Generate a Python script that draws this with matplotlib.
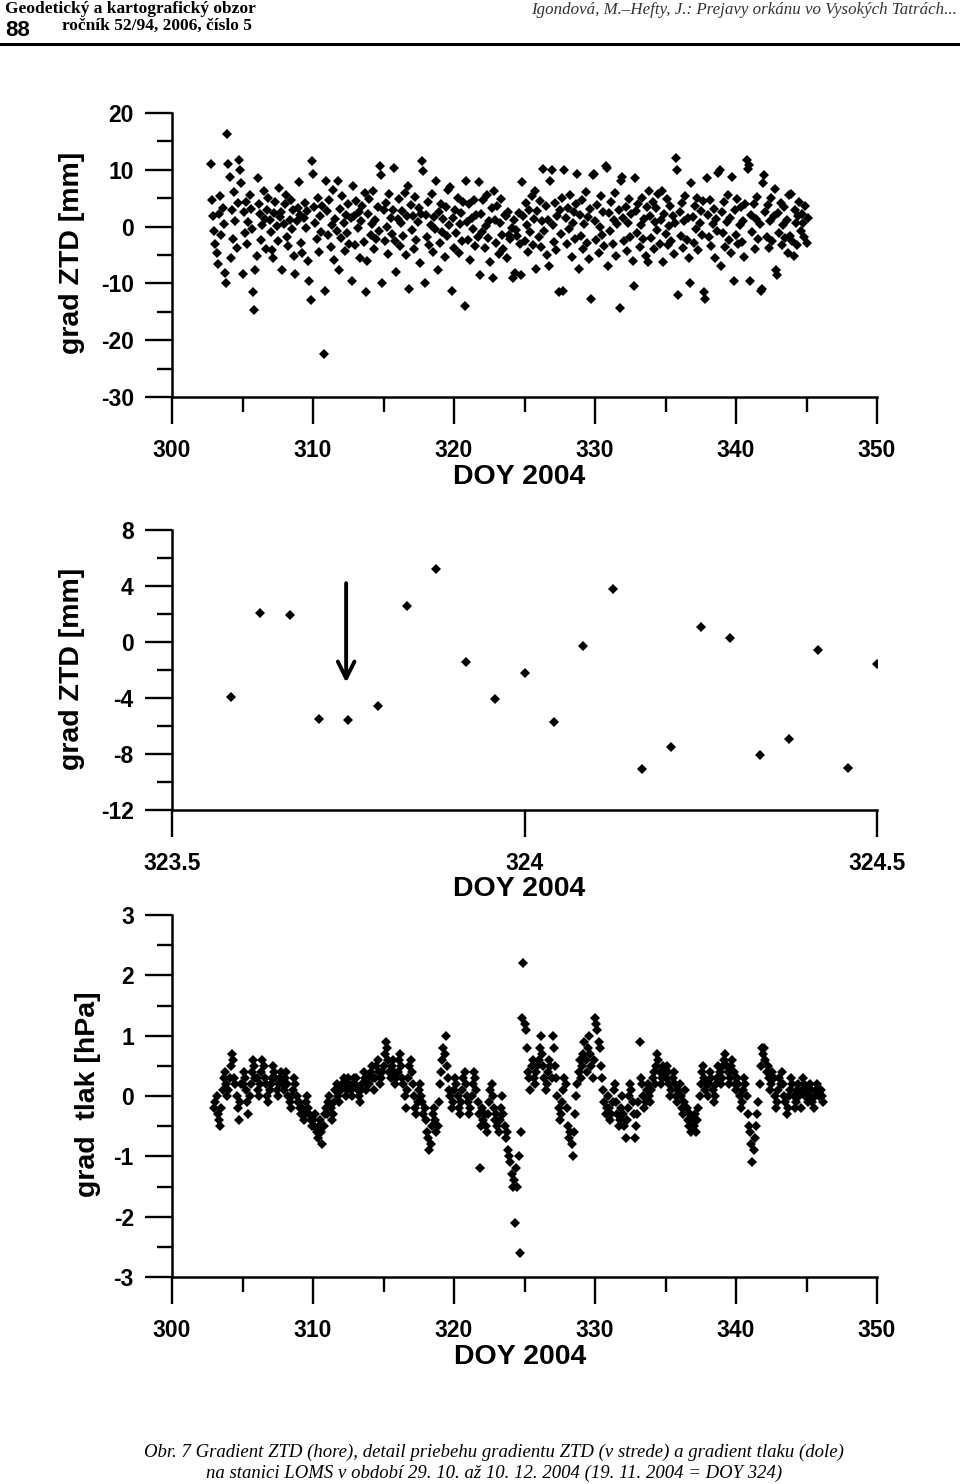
import numpy as np
import matplotlib
matplotlib.use("Agg")
import matplotlib.pyplot as plt
from matplotlib.ticker import MultipleLocator, FixedLocator
from matplotlib.lines import Line2D

plt.rcParams['axes.unicode_minus'] = False
SANS = ['Liberation Sans', 'DejaVu Sans']
SERIF = ['Liberation Serif', 'DejaVu Serif']

# ---------------- DATA ----------------
# Top panel: gradient ZTD [mm], samples every 2 h starting at DOY 302.75
ztd_start = 302.75
ztd_per_day = 12
ztd_rows = [
    [11.1, 4.6, 1.9, -0.7, -3.0, -4.6, -6.5, 2.3, 5.4, -1.5, 3.2, 0.4],
    [-8.1, -10.0, 16.3, 11.1, 8.8, -5.6, 3.0, -2.2, 6.1, 1.0, -3.8, 4.2],
    [11.8, 9.9, 7.6, -8.3, 2.5, -1.2, 4.4, -3.1, 0.8, 5.6, 3.1, -0.5],
    [-11.6, -14.6, -7.7, -5.1, 8.5, 4.0, 2.2, -2.4, 0.3, 6.2, 1.4, -4.0],
    [3.0, 5.1, 1.2, -1.0, -4.2, -5.6, 2.4, 4.3, 0.1, -2.5, 6.8, 1.7],
    [2.6, -7.7, 0.5, 3.9, 5.5, -1.8, -3.4, 1.1, 4.7, -0.4, 2.9, -5.2],
    [-8.3, 0.9, 3.3, 7.9, 2.0, -2.9, -4.7, 1.6, 4.1, -0.2, 2.8, -6.1],
    [-9.5, -13.0, 11.6, 9.3, 3.4, 0.6, -2.1, 5.0, -4.4, 1.9, -0.9, 3.7],
    [-22.4, -11.3, 8.0, 2.7, -1.5, 4.6, -3.6, 0.2, 6.4, -5.8, 1.3, -0.7],
    [8.1, -7.7, 3.1, -2.0, 5.3, 0.7, -4.3, 2.1, -1.1, 4.0, -3.0, 1.5],
    [-9.5, 7.2, 1.8, -3.3, 4.5, -0.3, 2.6, -5.5, 0.9, 3.6, -2.7, 5.9],
    [-11.6, -6.0, 2.3, 4.9, -1.4, 0.5, 6.3, -3.9, 1.2, -2.2, 3.4, -0.8],
    [10.7, 9.0, -9.9, 2.9, -2.6, 4.2, 0.0, -4.8, 5.7, 1.6, -1.3, 3.0],
    [10.4, -2.5, -8.0, 1.4, 4.8, -3.5, 0.6, 2.7, -1.7, 6.0, -5.0, 1.9],
    [7.2, -11.0, 3.8, -0.6, 1.9, -4.0, 5.2, -2.3, 0.8, 3.3, -6.4, 2.2],
    [11.6, 9.8, -9.9, 2.1, -1.8, 4.4, -3.2, 0.3, 5.8, -4.5, 1.7, -0.4],
    [8.1, -7.6, 2.5, -2.9, 4.0, -0.9, 1.3, -5.3, 3.5, -1.6, 6.5, 0.2],
    [7.0, -11.3, 1.6, -3.7, 3.0, -1.2, 5.1, -4.6, 0.4, 2.4, -2.6, 4.3],
    [-13.9, 8.1, 0.8, -2.4, 3.9, -5.9, 1.5, -0.5, 4.7, -3.4, 2.0, -1.9],
    [7.9, -8.6, 2.2, -1.0, 4.6, -3.8, 0.1, 5.5, -2.0, 1.0, -6.2, 3.2],
    [-9.0, 6.3, 1.1, -2.8, 3.6, -4.9, 0.7, 4.9, -1.5, -3.9, 2.1, 1.9],
    [-5.6, 2.6, -1.4, -2.2, -0.3, -9.1, 1.1, -8.1, -0.6, -1.6, 2.4, -3.0],
    [-8.6, 7.8, 1.9, -2.5, 4.2, 0.2, -4.4, 3.0, -1.0, 5.4, -3.3, 1.4],
    [6.3, -7.4, 2.8, -1.8, 4.5, -3.6, 0.9, 10.2, -0.7, 3.7, -5.0, 1.2],
    [-6.9, 8.1, 10.0, 0.3, -2.7, 4.1, -4.1, 1.8, -11.6, 2.9, -1.3, 5.0],
    [-11.3, 9.9, 1.5, -3.0, 3.3, -0.4, 5.6, -5.4, 0.6, 2.5, -2.1, 4.0],
    [9.3, -7.4, 2.0, -1.6, 4.7, -3.9, 0.4, 6.1, -2.8, 1.7, -5.7, 3.1],
    [-12.7, 9.0, 9.3, 1.0, -2.3, 3.8, -4.6, 0.0, 5.3, -1.4, 2.6, -3.5],
    [10.7, 10.4, -6.9, 2.4, -0.8, 4.3, -3.1, 1.2, 5.9, -5.1, 0.5, 3.0],
    [-14.3, 8.1, 8.8, 1.6, -2.6, 3.5, -4.3, 0.7, 4.8, -1.9, 2.2, -6.0],
    [-10.4, 8.5, 2.7, -1.1, 4.0, -3.6, 0.3, 5.1, -2.2, 1.4, -5.2, 3.4],
    [-6.3, 6.3, 1.9, -2.0, 4.4, -4.0, 0.8, 3.2, -0.6, 5.7, -3.0, 1.1],
    [6.3, -6.3, 2.3, -1.3, 4.9, -3.3, 0.1, 3.6, -2.6, 1.8, -4.8, 0.6],
    [12.1, 9.9, -12.1, 2.6, -1.7, 4.1, -3.8, 0.9, 5.3, -2.4, 1.5, -5.5],
    [-9.9, 7.7, 1.7, -2.9, 3.7, -0.5, 5.0, -4.2, 0.6, 2.8, -1.4, 4.5],
    [-11.6, -12.7, 8.5, 2.0, -1.9, 4.6, -3.4, 0.4, 3.1, -5.6, 1.3, -0.7],
    [9.5, 9.9, -6.9, 2.5, -1.2, 4.3, -3.6, 0.8, 5.6, -2.3, 1.6, -4.7],
    [8.8, -9.5, 2.9, -1.5, 4.8, -3.0, 0.2, 3.5, -2.7, 1.0, -5.3, 3.9],
    [11.8, 10.2, 10.8, -9.5, 2.1, -0.9, 4.0, -4.0, 1.4, 5.2, -2.1, 0.5],
    [-11.3, -11.0, 7.7, 9.0, 2.6, -1.8, 3.8, -3.7, 0.9, 5.1, -2.5, 1.8],
    [6.7, -7.7, -8.6, 2.4, -1.1, 4.2, -3.3, 0.3, 3.4, -2.0, 1.2, -4.6],
    [5.5, -1.6, 5.8, -2.5, -5.1, 3.0, 0.7, -3.2, 1.9, 4.4, -0.8, 2.2],
    [0.6, -1.9, 3.6, -2.8, 1.5],
]

# Middle panel: hourly gradient ZTD on DOY 323.5 - 324.5
detail_hours = [2, 3, 4, 5, 6, 7, 8, 9, 10, 11, 12, 13,
                14, 15, 16, 17, 18, 19, 20, 21, 22, 23, 24]
detail_ztd = [-3.9, 2.1, 1.9, -5.5, -5.6, -4.6, 2.6, 5.2, -1.4, -4.1, -2.2, -5.7,
              -0.3, 3.8, -9.1, -7.5, 1.1, 0.3, -8.1, -6.9, -0.6, -9.0, -1.6]
detail_start = 323.5
arrow_doy = 323.747
arrow_from, arrow_to = 4.2, -2.9

# Bottom panel: pressure gradient [hPa], samples every 2 h from DOY 303.0
tlak_start = 303.0
tlak_per_day = 12
tlak_rows = [
    [-0.2, -0.1, 0.0, -0.3, -0.4, -0.5, -0.2, 0.1, 0.3, 0.4, 0.2, 0.0],
    [0.1, 0.3, 0.5, 0.7, 0.6, 0.3, 0.2, 0.0, -0.2, -0.4, -0.1, 0.2],
    [0.2, 0.4, 0.3, 0.1, -0.1, -0.3, 0.0, 0.2, 0.4, 0.6, 0.5, 0.3],
    [0.3, 0.1, 0.0, 0.2, 0.4, 0.6, 0.5, 0.3, 0.2, 0.0, -0.1, 0.1],
    [0.2, 0.3, 0.5, 0.4, 0.3, 0.1, 0.0, 0.2, 0.3, 0.4, 0.2, 0.1],
    [0.3, 0.4, 0.2, 0.0, -0.1, -0.2, 0.0, 0.1, 0.3, 0.2, 0.0, -0.1],
    [-0.1, -0.2, -0.3, -0.2, -0.4, -0.3, -0.1, 0.0, -0.2, -0.3, -0.4, -0.5],
    [-0.4, -0.5, -0.3, -0.6, -0.7, -0.5, -0.4, -0.6, -0.8, -0.5, -0.3, -0.2],
    [-0.3, -0.1, 0.0, -0.2, -0.4, -0.3, -0.1, 0.1, 0.2, 0.0, -0.1, 0.1],
    [0.1, 0.2, 0.3, 0.2, 0.0, 0.1, 0.3, 0.2, 0.1, 0.0, 0.2, 0.3],
    [0.2, 0.3, 0.1, 0.0, -0.1, 0.1, 0.2, 0.4, 0.3, 0.1, 0.2, 0.3],
    [0.2, 0.4, 0.5, 0.3, 0.1, 0.3, 0.5, 0.6, 0.4, 0.2, 0.3, 0.4],
    [0.5, 0.7, 0.9, 0.8, 0.6, 0.4, 0.3, 0.5, 0.6, 0.4, 0.2, 0.3],
    [0.4, 0.6, 0.7, 0.5, 0.3, 0.2, 0.0, -0.2, 0.1, 0.3, 0.5, 0.6],
    [0.4, 0.2, 0.0, -0.2, -0.3, -0.1, 0.1, 0.2, 0.0, -0.1, -0.3, -0.2],
    [-0.4, -0.6, -0.7, -0.9, -0.8, -0.5, -0.3, -0.2, -0.4, -0.6, -0.5, -0.1],
    [0.2, 0.4, 0.6, 0.8, 0.7, 1.0, 0.5, 0.3, 0.1, 0.0, -0.2, -0.1],
    [0.1, 0.3, 0.2, 0.0, -0.2, -0.3, -0.1, 0.1, 0.3, 0.4, 0.2, 0.0],
    [-0.1, -0.3, -0.2, 0.0, 0.2, 0.4, 0.3, 0.1, -0.1, -0.3, -1.2, -0.5],
    [-0.2, -0.4, -0.3, -0.5, -0.6, -0.3, -0.1, 0.1, 0.2, 0.0, -0.2, -0.4],
    [-0.3, -0.5, -0.6, -0.4, -0.2, 0.0, -0.3, -0.5, -0.7, -0.6, -0.9, -1.0],
    [-1.1, -1.3, -1.5, -1.4, -2.1, -1.2, -1.5, -1.0, -2.6, -0.6, 1.3, 2.2],
    [1.2, 1.1, 0.8, 0.4, 0.3, 0.1, 0.5, 0.6, 0.3, 0.2, 0.4, 0.5],
    [0.6, 0.8, 1.0, 0.7, 0.5, 0.3, 0.1, 0.2, 0.4, 0.6, 0.5, 0.3],
    [1.0, 0.8, 0.5, 0.3, 0.0, -0.2, -0.4, -0.3, -0.1, 0.1, 0.3, 0.2],
    [-0.2, -0.5, -0.7, -0.6, -0.8, -1.0, -0.6, -0.3, 0.0, 0.2, 0.4, 0.6],
    [0.3, 0.5, 0.7, 0.9, 0.6, 0.4, 0.8, 1.0, 0.7, 0.5, 0.3, 0.6],
    [1.3, 1.2, 1.1, 0.9, 0.8, 0.5, 0.3, 0.1, -0.1, -0.3, -0.2, 0.0],
    [-0.2, -0.4, -0.3, -0.1, 0.1, 0.2, -0.1, -0.3, -0.5, -0.4, -0.2, 0.0],
    [-0.3, -0.5, -0.7, -0.4, -0.2, 0.0, 0.2, 0.1, -0.1, -0.3, -0.7, -0.5],
    [-0.3, -0.1, 0.9, 0.3, 0.2, 0.0, -0.2, -0.1, 0.1, 0.2, 0.0, -0.1],
    [0.1, 0.3, 0.4, 0.2, 0.5, 0.7, 0.6, 0.4, 0.2, 0.3, 0.5, 0.4],
    [0.3, 0.5, 0.4, 0.2, 0.0, 0.1, 0.3, 0.4, 0.2, 0.0, -0.1, 0.1],
    [0.2, 0.0, -0.2, -0.3, -0.1, 0.1, -0.2, -0.4, -0.5, -0.3, -0.6, -0.4],
    [-0.5, -0.3, -0.6, -0.4, -0.2, 0.0, 0.2, 0.4, 0.5, 0.3, 0.1, 0.2],
    [0.0, 0.2, 0.4, 0.3, 0.1, -0.1, 0.0, 0.2, 0.3, 0.5, 0.4, 0.2],
    [0.3, 0.5, 0.6, 0.7, 0.5, 0.4, 0.2, 0.3, 0.5, 0.6, 0.4, 0.2],
    [0.1, 0.3, 0.2, 0.0, -0.2, -0.1, 0.1, 0.3, 0.2, 0.0, -0.3, -0.5],
    [-0.6, -0.8, -1.1, -0.9, -0.7, -0.5, -0.3, -0.1, 0.2, 0.5, 0.8, 0.7],
    [0.8, 0.6, 0.4, 0.5, 0.3, 0.1, 0.2, 0.4, 0.3, 0.0, -0.2, -0.1],
    [0.1, 0.3, 0.2, 0.4, 0.2, 0.0, -0.1, -0.3, -0.2, 0.0, 0.1, 0.3],
    [0.2, 0.0, -0.2, -0.1, 0.1, 0.2, 0.0, -0.2, 0.1, 0.3, 0.2, 0.0],
    [0.1, -0.1, 0.0, 0.2, 0.1, -0.1, -0.2, 0.0, 0.1, 0.2, 0.1, 0.0],
    [0.1, 0.0, -0.1],
]

top_xticks = [300, 310, 320, 330, 340, 350]
top_yticks = [20, 10, 0, -10, -20, -30]
mid_xticks = [323.5, 324, 324.5]
mid_xticklabels = ["323.5", "324", "324.5"]
mid_yticks = [8, 4, 0, -4, -8, -12]
bot_yticks = [3, 2, 1, 0, -1, -2, -3]

header_left1 = "Geodetický a kartografický obzor"
header_num = "88"
header_left2 = "ročník 52/94, 2006, číslo 5"
header_right = "Igondová, M.–Hefty, J.: Prejavy orkánu vo Vysokých Tatrách..."
caption1 = "Obr. 7 Gradient ZTD (hore), detail priebehu gradientu ZTD (v strede) a gradient tlaku (dole)"
caption2 = "na stanici LOMS v období 29. 10. až 10. 12. 2004 (19. 11. 2004 = DOY 324)"

# ---------------- FIGURE ----------------
W, H = 960, 1484
fig = plt.figure(figsize=(W / 100, H / 100), dpi=100)


def fx(px):
    return px / W


def fy(py):
    return 1 - py / H


def make_ax(top, bottom, left=172, right=877):
    return fig.add_axes([fx(left), fy(bottom), (right - left) / W, (bottom - top) / H])


def style(ax):
    for s in ['top', 'right']:
        ax.spines[s].set_visible(False)
    for s in ['left', 'bottom']:
        ax.spines[s].set_linewidth(1.8)
    ax.tick_params(which='major', direction='out', length=19.5, width=1.7)
    ax.tick_params(which='minor', direction='out', length=10.5, width=1.7)
    ax.tick_params(axis='y', which='major', pad=8, labelsize=16.5)
    ax.tick_params(axis='x', which='major', pad=11, labelsize=16.5)
    for lab in ax.get_xticklabels() + ax.get_yticklabels():
        lab.set_fontfamily(SANS)
        lab.set_fontweight('bold')


def flatten(rows):
    vals = []
    for r in rows:
        vals.extend(r)
    return np.array(vals)


label_kw = dict(fontfamily=SANS, fontweight='bold', fontsize=20.5, ha='center', va='center')

# Top panel
ax1 = make_ax(113, 397)
ztd = flatten(ztd_rows)
x_ztd = ztd_start + np.arange(len(ztd)) / ztd_per_day
ax1.plot(x_ztd, ztd, linestyle='none', marker='D', ms=4.8, mew=0, color='black')
ax1.set_xlim(300, 350)
ax1.set_ylim(-30, 20)
ax1.xaxis.set_major_locator(FixedLocator(top_xticks))
ax1.xaxis.set_minor_locator(MultipleLocator(5))
ax1.yaxis.set_major_locator(FixedLocator(top_yticks))
ax1.yaxis.set_minor_locator(MultipleLocator(5))
ax1.set_xticklabels([str(v) for v in top_xticks])
ax1.set_yticklabels([str(v) for v in top_yticks])
style(ax1)
fig.text(fx(72), fy(253), "grad ZTD [mm]", rotation=90, **label_kw)
fig.text(fx(519), fy(477), "DOY 2004", **label_kw)

# Middle panel
ax2 = make_ax(530, 810)
x_det = detail_start + np.array(detail_hours) / 24.0
ax2.plot(x_det, detail_ztd, linestyle='none', marker='D', ms=4.6, mew=0, color='black')
ax2.set_xlim(323.5, 324.5)
ax2.set_ylim(-12, 8)
ax2.xaxis.set_major_locator(FixedLocator(mid_xticks))
ax2.yaxis.set_major_locator(FixedLocator(mid_yticks))
ax2.yaxis.set_minor_locator(MultipleLocator(2))
ax2.set_xticklabels(mid_xticklabels)
ax2.set_yticklabels([str(v) for v in mid_yticks])
style(ax2)
ax2.annotate('', xy=(arrow_doy, arrow_to), xytext=(arrow_doy, arrow_from),
             arrowprops=dict(arrowstyle='->,head_length=1.2,head_width=0.6',
                             lw=2.8, color='black', shrinkA=0, shrinkB=0))
fig.text(fx(72), fy(669), "grad ZTD [mm]", rotation=90, **label_kw)
fig.text(fx(519), fy(889), "DOY 2004", **label_kw)

# Bottom panel
ax3 = make_ax(915, 1277)
tlak = flatten(tlak_rows)
x_tlak = tlak_start + np.arange(len(tlak)) / tlak_per_day
ax3.plot(x_tlak, tlak, linestyle='none', marker='D', ms=4.7, mew=0, color='black')
ax3.set_xlim(300, 350)
ax3.set_ylim(-3, 3)
ax3.xaxis.set_major_locator(FixedLocator(top_xticks))
ax3.xaxis.set_minor_locator(MultipleLocator(5))
ax3.yaxis.set_major_locator(FixedLocator(bot_yticks))
ax3.yaxis.set_minor_locator(MultipleLocator(0.5))
ax3.set_xticklabels([str(v) for v in top_xticks])
ax3.set_yticklabels([str(v) for v in bot_yticks])
style(ax3)
fig.text(fx(88), fy(1094), "grad  tlak [hPa]", rotation=90, **label_kw)
fig.text(fx(520), fy(1357), "DOY 2004", **label_kw)

# Header
fig.text(fx(5), fy(1), header_left1, fontfamily=SERIF, fontweight='bold',
         fontsize=12.5, ha='left', va='top')
fig.text(fx(5), fy(20), header_num, fontfamily=SANS, fontweight='bold',
         fontsize=16, ha='left', va='top')
fig.text(fx(62), fy(18), header_left2, fontfamily=SERIF, fontweight='bold',
         fontsize=12.5, ha='left', va='top')
fig.text(fx(957), fy(2), header_right, fontfamily=SERIF, style='italic',
         fontsize=12.2, ha='right', va='top', color='#333333')
fig.add_artist(Line2D([0, 1], [fy(44), fy(44)], transform=fig.transFigure,
                      lw=2.2, color='black'))

# Caption
fig.text(fx(494), fy(1452), caption1, fontfamily=SERIF, style='italic',
         fontsize=13.5, ha='center', va='center')
fig.text(fx(494), fy(1473), caption2, fontfamily=SERIF, style='italic',
         fontsize=13.5, ha='center', va='center')

fig.savefig("out.png", dpi=100)
